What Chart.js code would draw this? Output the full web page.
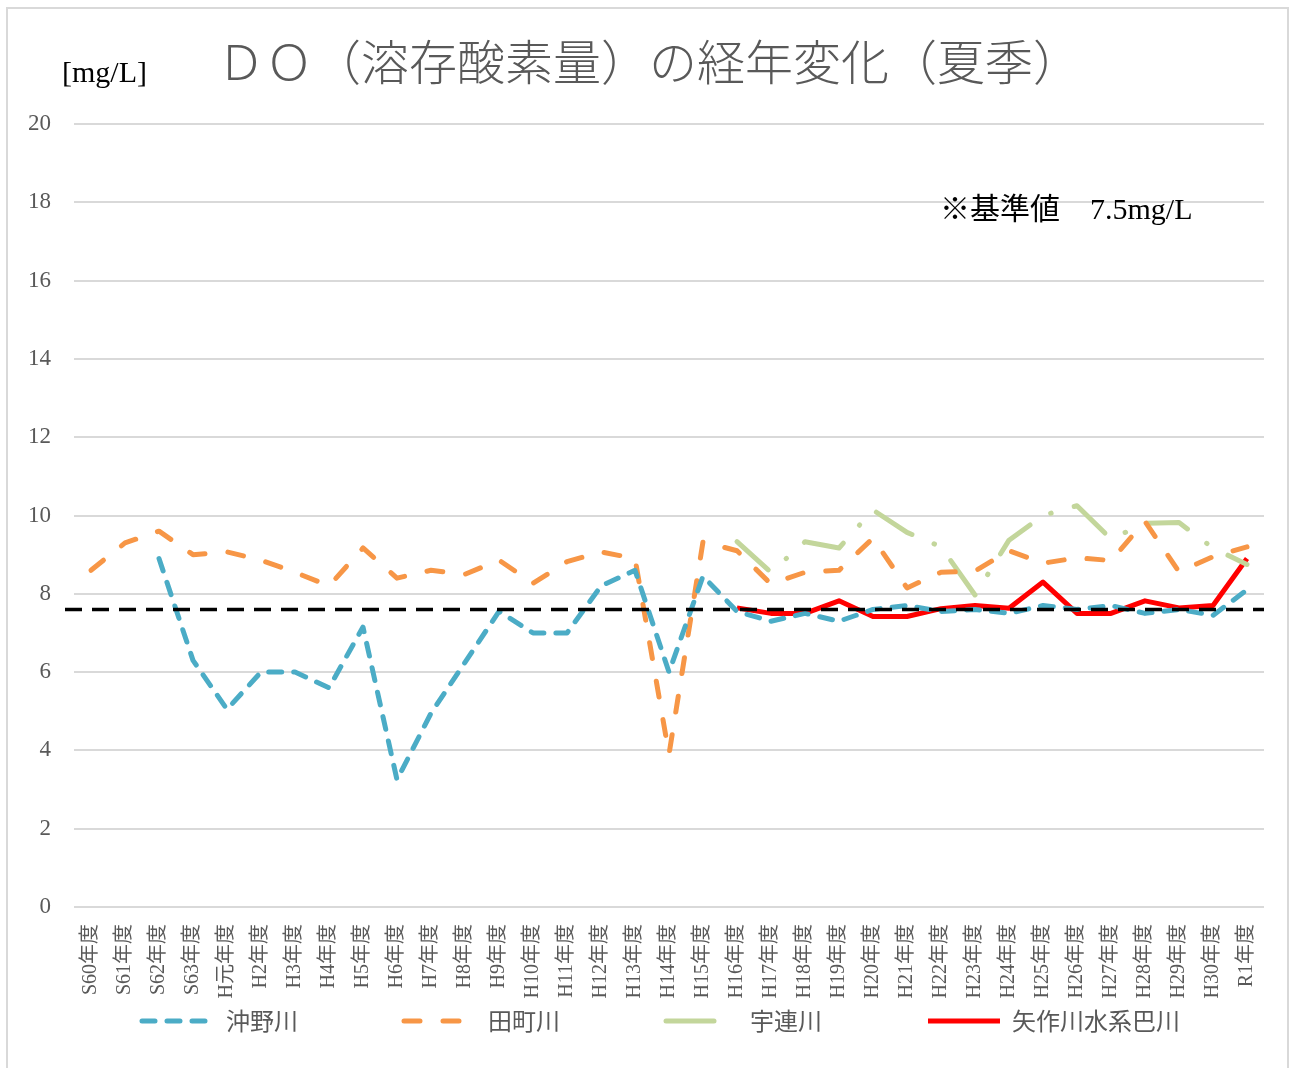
<!DOCTYPE html>
<html lang="ja">
<head>
<meta charset="utf-8">
<title>ＤＯ（溶存酸素量）の経年変化（夏季）</title>
<script src="https://cdn.jsdelivr.net/npm/chart.js@4.4.1/dist/chart.umd.min.js"></script>
<style>
  html, body { margin: 0; padding: 0; background: #fff; overflow: hidden; }
  #wrap { position: relative; width: 1293px; height: 1068px; }
  #frame { position: absolute; left: 6px; top: 7px; width: 1283px; height: 1100px; border: 2px solid #d9d9d9; box-sizing: border-box; }
  #chart { position: absolute; left: 0; top: 0; }
  .note { position: absolute; font-family: 'Liberation Serif', 'Noto Sans CJK JP', serif; color: #000; white-space: nowrap; line-height: 32px; }
</style>
</head>
<body>
<div id="wrap">
  <div id="frame"></div>
  <canvas id="chart" width="1293" height="1068"></canvas>
  <div class="note" style="left:62px; top:56px; font-size:30px;">[mg/L]</div>
  <div class="note" style="left:940px; top:193px; font-size:30px;">※基準値　7.5mg/L</div>
</div>
<script>
const years = [
  'S60年度', 'S61年度', 'S62年度', 'S63年度', 'H元年度',
  'H2年度', 'H3年度', 'H4年度', 'H5年度', 'H6年度', 'H7年度', 'H8年度', 'H9年度', 'H10年度',
  'H11年度', 'H12年度', 'H13年度', 'H14年度', 'H15年度', 'H16年度', 'H17年度', 'H18年度', 'H19年度',
  'H20年度', 'H21年度', 'H22年度', 'H23年度', 'H24年度', 'H25年度', 'H26年度', 'H27年度', 'H28年度',
  'H29年度', 'H30年度', 'R1年度'
];

// 沖野川
const okino = [
  null, null, 8.9, 6.3, 5.05, 6.0, 6.0, 5.6, 7.15, 3.25, 4.95, 6.25, 7.55, 7.0, 7.0, 8.2, 8.6, 6.0,
  8.45, 7.55, 7.3, 7.5, 7.3, 7.6, 7.7, 7.55, 7.6, 7.5, 7.7, 7.6, 7.7, 7.5, 7.6, 7.45, 8.1
];
// 田町川
const tamachi = [
  8.6, 9.3, 9.6, 9.0, 9.07, 8.86, 8.55, 8.2, 9.17, 8.4, 8.6, 8.5, 8.86, 8.27, 8.82, 9.07, 8.9, 3.9,
  9.33, 9.1, 8.25, 8.55, 8.6, 9.42, 8.15, 8.55, 8.58, 9.1, 8.78, 8.92, 8.85, 9.85, 8.56, 8.95, 9.2
];
// 宇連川
const uren = [
  null, null, null, null, null, null, null, null, null, null, null, null, null, null, null, null, null, null,
  null, 9.33, 8.55, 9.33, 9.17, 10.14, 9.57, 9.2, 7.97, 9.37, 10.0, 10.25, 9.4, 9.8, 9.82, 9.17, 8.75
];
// 矢作川水系巴川
const tomoe = [
  null, null, null, null, null, null, null, null, null, null, null, null, null, null, null, null, null, null,
  null, 7.64, 7.5, 7.5, 7.82, 7.42, 7.42, 7.62, 7.7, 7.63, 8.3, 7.5, 7.5, 7.82, 7.64, 7.7, 8.9
];

const standardLine = 7.6;
const yTicks = { min: 0, max: 20, step: 2 };

const grayText = '#595959';
const serif = "'Liberation Serif', 'Noto Sans CJK JP', serif";
const sans = "'Noto Sans CJK JP', sans-serif";

// 基準値の破線（プロット領域の左端の少し外から右端まで）
const standardPlugin = {
  id: 'standardPlugin',
  afterDatasetsDraw(chart) {
    const { ctx, chartArea, scales } = chart;
    const y = scales.y.getPixelForValue(standardLine);
    ctx.save();
    ctx.strokeStyle = '#000';
    ctx.lineWidth = 3.5;
    ctx.setLineDash([17, 10]);
    ctx.beginPath();
    ctx.moveTo(chartArea.left - 9, y);
    ctx.lineTo(chartArea.right, y);
    ctx.stroke();
    ctx.restore();
  }
};

const lineBase = {
  borderWidth: 5,
  pointRadius: 0,
  pointHoverRadius: 0,
  tension: 0,
  fill: false,
  borderCapStyle: 'round',
  borderJoinStyle: 'round'
};

new Chart(document.getElementById('chart'), {
  type: 'line',
  data: {
    labels: years,
    datasets: [
      { ...lineBase, label: '沖野川', data: okino, borderColor: '#4bacc6', backgroundColor: '#4bacc6', borderDash: [13, 12] },
      { ...lineBase, label: '田町川', data: tamachi, borderColor: '#f79646', backgroundColor: '#f79646', borderDash: [16, 23] },
      { ...lineBase, label: '宇連川', data: uren, borderColor: '#c3d69b', backgroundColor: '#c3d69b', borderDash: [42, 24, 0.5, 24] },
      { ...lineBase, label: '矢作川水系巴川', data: tomoe, borderColor: '#ff0000', backgroundColor: '#ff0000', borderCapStyle: 'butt' }
    ]
  },
  options: {
    responsive: false,
    animation: false,
    devicePixelRatio: 1,
    layout: {
      padding: { left: 58, right: 29, top: 0, bottom: 25 }
    },
    scales: {
      x: {
        offset: true,
        grid: { display: false },
        border: { display: false },
        afterFit(scale) { scale.height = 92; },
        ticks: {
          autoSkip: false,
          minRotation: 90,
          maxRotation: 90,
          padding: 9,
          color: grayText,
          font: { family: serif, size: 20 }
        }
      },
      y: {
        min: yTicks.min,
        max: yTicks.max,
        border: { display: false },
        grid: { color: '#d9d9d9', lineWidth: 2, drawTicks: false },
        afterFit(scale) { scale.width = 16; },
        ticks: {
          stepSize: yTicks.step,
          mirror: true,
          crossAlign: 'far',
          padding: -46,
          color: grayText,
          font: { family: serif, size: 23 }
        }
      }
    },
    plugins: {
      tooltip: { enabled: false },
      title: {
        display: true,
        text: 'ＤＯ（溶存酸素量）の経年変化（夏季）　',
        color: grayText,
        font: { family: sans, size: 48, weight: '300' },
        padding: { top: 33, bottom: 33.4 }
      },
      legend: {
        position: 'bottom',
        labels: {
          usePointStyle: true,
          pointStyle: 'line',
          pointStyleWidth: 72,
          padding: 10,
          color: grayText,
          font: { family: sans, size: 24 },
          generateLabels(chart) {
            const items = Chart.defaults.plugins.legend.labels.generateLabels(chart);
            items.forEach((item, i) => {
              const ds = chart.data.datasets[item.datasetIndex];
              item.lineDash = ds.borderDash || [];
              item.lineCap = ds.borderCapStyle;
              item.lineWidth = ds.borderWidth;
              if (i < items.length - 1) item.text += '　　　　';
              if (i === 2) item.lineDash = [48, 100];
            });
            return items;
          }
        }
      }
    }
  },
  plugins: [standardPlugin]
});
</script>
</body>
</html>
